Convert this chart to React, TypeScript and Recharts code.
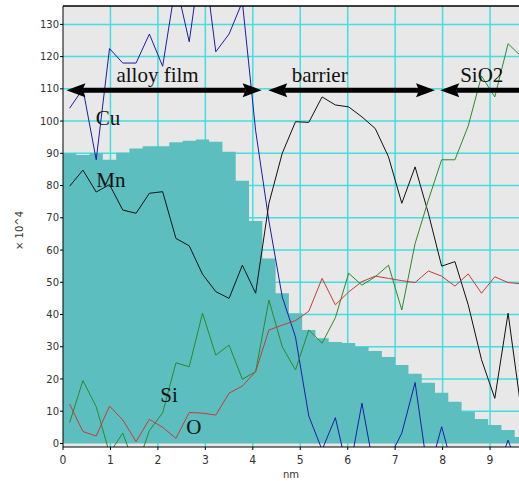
import {
  Area,
  CartesianGrid,
  ComposedChart,
  Line,
  ReferenceDot,
  ReferenceLine,
  XAxis,
  YAxis,
} from 'recharts';

// depth profile, counts x 10^4
const stepEdgesNm = [
  0, 0.28, 0.56, 0.84, 1.12, 1.4, 1.68, 1.96, 2.24, 2.52, 2.8, 3.08, 3.36, 3.64, 3.92, 4.2, 4.48, 4.76,
  5.04, 5.32, 5.6, 5.88, 6.16, 6.44, 6.72, 7.0, 7.28, 7.56, 7.84, 8.12, 8.4, 8.68, 8.96, 9.24, 9.52, 9.8,
];
const totalCounts = [
  90, 89.5, 90, 88, 90.2, 91.5, 92.2, 92.2, 93.4, 93.9, 94.3, 93.6, 90.5, 81.5, 69, 57.4, 46.6, 40.4,
  35.2, 32.6, 31.5, 31.2, 29.9, 28.7, 26.8, 24.3, 21.6, 18.8, 15.7, 12.9, 9.8, 7.6, 5.7, 4.2, 2.0, 2.0,
];

const depthNm = [
  0.14, 0.42, 0.7, 0.98, 1.26, 1.54, 1.82, 2.1, 2.38, 2.66, 2.94, 3.22, 3.5, 3.78, 4.06, 4.34, 4.62, 4.9,
  5.18, 5.46, 5.74, 6.02, 6.3, 6.58, 6.86, 7.14, 7.42, 7.7, 7.98, 8.26, 8.54, 8.82, 9.1, 9.38, 9.66,
];
const cuCounts = [
  104, 110, 88, 122.5, 118, 118, 127, 117, 143, 124.6, 154, 121.5, 127, 137, 97, 69, 45.5, 33,
  8.5, -2, 8, -10, 12.5, -10, -5, 3.2, 18.9, -10, 5.2, -10, -10, -10, -10, 1, -10,
];
const mnCounts = [
  79.8, 84.8, 78, 80.3, 72.4, 71.4, 77.6, 78.1, 63.6, 61.3, 52.5, 47.1, 45, 55.3, 46.6, 74.5, 90, 99.8,
  99.6, 107.5, 105, 104.4, 101.3, 97.7, 88.9, 74.5, 85.8, 71.4, 55, 56.4, 43, 26, 14, 40.4, 10,
];
const siCounts = [
  6.5, 19.5, 11.4, -3, 3.2, -8, 4, 9.5, 25, 23.8, 40.4, 27.4, 30.5, 19.9, 22.3, 44.5, 30, 22.8,
  35.2, 31.1, 39, 52.8, 49.1, 51.7, 55.3, 41.4, 62, 75.5, 88, 88, 98.5, 114, 107.5, 124, 120,
];
const oCounts = [
  12.2, 3.7, 2.3, 11.6, 7.3, 0.6, 7.5, 5, 1.6, 9.6, 9.4, 8.8, 15.6, 17.8, 22.3, 35.2, 36.7, 38.1,
  41, 51.2, 43, 47, 50.2, 51.9, 51.2, 50.5, 49.9, 53.5, 51.9, 48.8, 52.6, 46.6, 51.7, 49.9, 49.5,
];

const xTicks = [0, 1, 2, 3, 4, 5, 6, 7, 8, 9];
const yTicks = [0, 10, 20, 30, 40, 50, 60, 70, 80, 90, 100, 110, 120, 130];

const regionNames = ['alloy film', 'barrier', 'SiO2'];
const regionFrom = [0.072, 4.325, 7.95];
const regionTo = [4.186, 7.84, 10.6];
const regionTextAt = [1.127, 4.82, 8.37];
const arrowLevel = 109.6;
const regionTextLevel = 112.2;

const seriesNames = ['Cu', 'Mn', 'Si', 'O'];
const seriesLabelX = [0.69, 0.7, 2.05, 2.6];
const seriesLabelY = [98.8, 79.6, 13, 2.8];

const TEAL = '#5cbebe';
const GRID = '#45dede';
const serif = "'Liberation Serif', 'Times New Roman', serif";

const toRows = (xs: number[], vs: number[]) => xs.map((x, i) => ({ x, v: vs[i] }));

function DoubleArrow(props: any) {
  const { x1, y1, x2 } = props;
  const len = 19;
  const half = 7;
  const notch = 3;
  const y = y1;
  return (
    <g>
      <line x1={x1 + len - notch} y1={y} x2={x2 - len + notch} y2={y} stroke="#000" strokeWidth={5} />
      <polygon
        points={`${x1},${y} ${x1 + len},${y - half} ${x1 + len - notch},${y} ${x1 + len},${y + half}`}
        fill="#000"
      />
      <polygon
        points={`${x2},${y} ${x2 - len},${y - half} ${x2 - len + notch},${y} ${x2 - len},${y + half}`}
        fill="#000"
      />
    </g>
  );
}

const textShape = (text: string) => (p: any) => (
  <text x={p.cx} y={p.cy} fontFamily={serif} fontSize={21} fill="#111">
    {text}
  </text>
);

export default function App() {
  const total = toRows(stepEdgesNm, totalCounts);
  const series = [
    { name: 'Cu', color: '#1c1ca8', data: toRows(depthNm, cuCounts) },
    { name: 'Mn', color: '#111111', data: toRows(depthNm, mnCounts) },
    { name: 'Si', color: '#2b8a2b', data: toRows(depthNm, siCounts) },
    { name: 'O', color: '#c83a3a', data: toRows(depthNm, oCounts) },
  ];

  return (
    <div style={{ position: 'absolute', left: 0, top: 0 }}>
      <ComposedChart width={519} height={481} margin={{ top: 6, right: 0, bottom: 0, left: 0 }}>
        <CartesianGrid
          fill="#e8e8e8"
          stroke={GRID}
          strokeWidth={1.5}
          horizontalValues={yTicks.slice(1)}
          verticalValues={xTicks.slice(1)}
        />
        <XAxis
          type="number"
          dataKey="x"
          domain={[0, 9.61]}
          allowDataOverflow
          ticks={xTicks}
          tickSize={3}
          tickMargin={5}
          stroke="#000"
          height={34}
          tick={{ fontSize: 12, fill: '#333', fontFamily: "'Liberation Sans Narrow', 'DejaVu Sans Condensed', sans-serif" }}
          label={{
            content: ({ viewBox }: any) => (
              <text
                x={viewBox.x + viewBox.width / 2}
                y={viewBox.y + viewBox.height - 3}
                textAnchor="middle"
                fontSize={10}
                fill="#333"
                fontFamily="DejaVu Sans"
              >
                nm
              </text>
            ),
          }}
        />
        <YAxis
          type="number"
          domain={[-1.1, 135.7]}
          allowDataOverflow
          ticks={yTicks}
          tickSize={3}
          tickMargin={1}
          width={63}
          stroke="#000"
          tick={{ fontSize: 10, fill: '#333', fontFamily: 'DejaVu Sans' }}
          label={{
            content: ({ viewBox }: any) => (
              <text
                transform={`translate(${viewBox.x + 20},${viewBox.y + viewBox.height / 2 + 4}) rotate(-90)`}
                textAnchor="middle"
                dominantBaseline="middle"
                fontSize={10}
                fill="#333"
                fontFamily="DejaVu Sans"
              >
                × 10^4
              </text>
            ),
          }}
        />
        <Area
          data={total}
          dataKey="v"
          type="stepAfter"
          fill={TEAL}
          fillOpacity={1}
          stroke="none"
          baseValue={0}
          isAnimationActive={false}
        />
        {series.map((s) => (
          <Line
            key={s.name}
            data={s.data}
            dataKey="v"
            type="linear"
            stroke={s.color}
            strokeWidth={1}
            dot={false}
            isAnimationActive={false}
          />
        ))}
        <ReferenceLine y={135.7} stroke="#000" strokeWidth={1.5} ifOverflow="visible" />
        {regionNames.map((name, i) => (
          <ReferenceLine
            key={name}
            segment={[
              { x: regionFrom[i], y: arrowLevel },
              { x: regionTo[i], y: arrowLevel },
            ]}
            ifOverflow="visible"
            shape={(p: any) => <DoubleArrow {...p} />}
          />
        ))}
        {regionNames.map((name, i) => (
          <ReferenceDot
            key={'t' + name}
            x={regionTextAt[i]}
            y={regionTextLevel}
            ifOverflow="visible"
            shape={textShape(name)}
          />
        ))}
        {seriesNames.map((name, i) => (
          <ReferenceDot
            key={'s' + name}
            x={seriesLabelX[i]}
            y={seriesLabelY[i]}
            ifOverflow="visible"
            shape={textShape(name)}
          />
        ))}
      </ComposedChart>
    </div>
  );
}
